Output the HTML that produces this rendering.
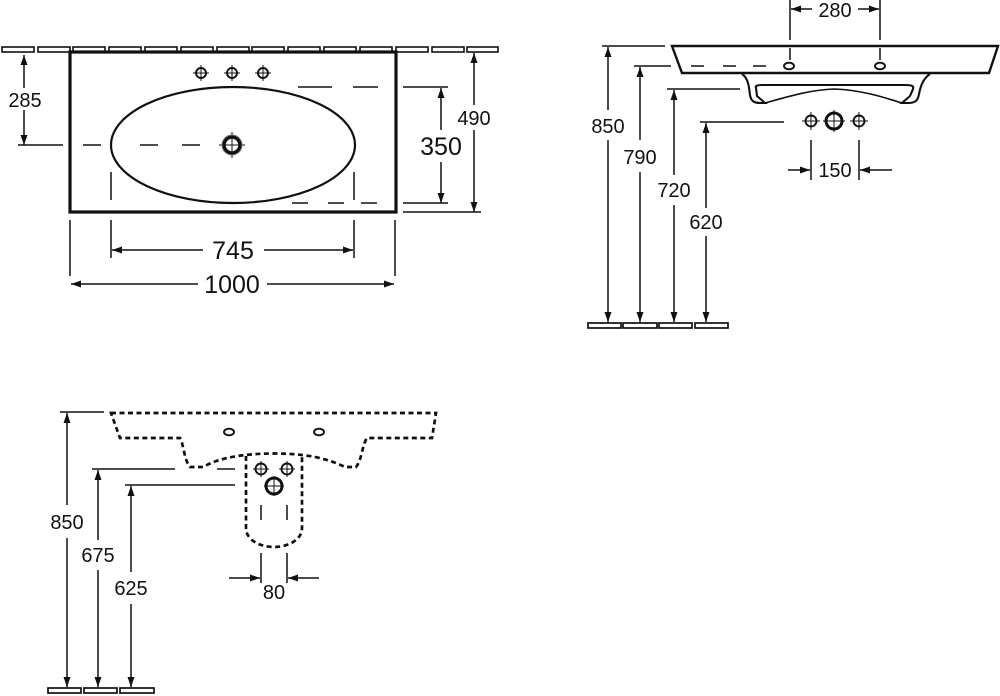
<!DOCTYPE html>
<html><head><meta charset="utf-8"><style>
html,body{margin:0;padding:0;background:#fff;}
svg{display:block;}
text{font-family:"Liberation Sans",sans-serif;fill:#111;}
</style></head><body>
<svg width="1000" height="696" viewBox="0 0 1000 696" xmlns="http://www.w3.org/2000/svg">
<defs>
<marker id="a" viewBox="0 0 10 10" refX="10" refY="5" markerWidth="10" markerHeight="10" markerUnits="userSpaceOnUse" orient="auto">
<path d="M0,1.5 L10,5 L0,8.5 Z" fill="#111"/></marker>
</defs>
<g stroke="#111" fill="none" stroke-width="1.5">

<g stroke-width="1.6" fill="#fff">
<rect x="2" y="47" width="32" height="5"/><rect x="38" y="47" width="32" height="5"/><rect x="73" y="47" width="32" height="5"/>
<rect x="109" y="47" width="32" height="5"/><rect x="145" y="47" width="32" height="5"/><rect x="181" y="47" width="32" height="5"/>
<rect x="217" y="47" width="32" height="5"/><rect x="252" y="47" width="32" height="5"/><rect x="288" y="47" width="32" height="5"/>
<rect x="324" y="47" width="32" height="5"/><rect x="360" y="47" width="32" height="5"/><rect x="396" y="47" width="32" height="5"/>
<rect x="432" y="47" width="32" height="5"/><rect x="467" y="47" width="31" height="5"/>
</g>
<rect x="70" y="52" width="326" height="160" stroke-width="3.2"/>
<ellipse cx="233" cy="145" rx="122" ry="58" stroke-width="2.2"/>
<g stroke-width="1.9">
<circle cx="201" cy="73" r="5"/><circle cx="232" cy="73" r="5"/><circle cx="263" cy="73" r="5"/>
</g>
<g stroke-width="1">
<path d="M201 65v16M193 73h16M232 65v16M224 73h16M263 65v16M255 73h16"/>
<path d="M232 132v26M219 145h26"/>
</g>
<circle cx="232" cy="145" r="8" stroke-width="3.5"/>
<circle cx="232" cy="145" r="10" stroke-width="1" stroke="#777"/>
<path d="M18 145h45M83 145h18M140 145h18M182 145h18" />
<path d="M298 87h34M353 87h25M403 87h45" />
<path d="M292 203h16M328 203h16M361 203h16M403 203h45" />
<path d="M111 172v28M354 172v28" />
<path d="M24 100V55" marker-end="url(#a)"/>
<path d="M24 100V145" marker-end="url(#a)"/>
<rect x="4" y="88" width="40" height="22" fill="#fff" stroke="none"/>
<path d="M441 130V88" marker-end="url(#a)"/>
<path d="M441 162V203" marker-end="url(#a)"/>
<path d="M474 105V53" marker-end="url(#a)"/>
<path d="M474 130V212" marker-end="url(#a)"/>
<path d="M403 212h78"/>
<path d="M111 220v38M354 220v38M70 220v56M395 220v56"/>
<path d="M203 250H112" marker-end="url(#a)"/>
<path d="M264 250H353" marker-end="url(#a)"/>
<path d="M198 284H71" marker-end="url(#a)"/>
<path d="M267 284H394" marker-end="url(#a)"/>

<path d="M790 0v40M880 0v40M790 48v12M880 48v12"/>
<path d="M812 9H791" marker-end="url(#a)"/>
<path d="M858 9H879" marker-end="url(#a)"/>
<path d="M672 46H998L989 73H682Z" stroke-width="2.4"/>
<path d="M691 66h13M723 66h13M753 66h13" />
<ellipse cx="789" cy="66" rx="5" ry="3.3" stroke-width="1.9"/>
<ellipse cx="880" cy="66" rx="5" ry="3.3" stroke-width="1.9"/>
<path d="M742 74C748 78 749 86 750 95C751 101 754 103 760 103H765L757 96L756 88C755 86 757 85 762 85H905C912 85 914 86 913 89L910 96L902 103H908C916 103 918 100 919 94C921 84 924 78 930 74" stroke-width="2.1"/>
<path d="M765 103C790 96 810 90 834 89C860 90 880 96 902 103" stroke-width="1.6"/>
<g stroke-width="1.9"><circle cx="811" cy="121" r="5.5"/><circle cx="859" cy="121" r="5.5"/></g>
<circle cx="834" cy="121" r="8" stroke-width="3"/>
<g stroke-width="1"><path d="M811 112v18M802 121h18M859 112v18M850 121h18M834 110v22M823 121h22"/></g>
<path d="M811 140v40M859 140v40"/>
<path d="M788 170H810" marker-end="url(#a)"/>
<path d="M892 170H860" marker-end="url(#a)"/>
<path d="M602 46h63M634 66h37M667 89h73M700 122h84"/>
<path d="M608 110V47" marker-end="url(#a)"/>
<path d="M608 140V322" marker-end="url(#a)"/>
<path d="M640 140V67" marker-end="url(#a)"/>
<path d="M640 172V322" marker-end="url(#a)"/>
<path d="M674 175V90" marker-end="url(#a)"/>
<path d="M674 205V322" marker-end="url(#a)"/>
<path d="M706 208V123" marker-end="url(#a)"/>
<path d="M706 236V322" marker-end="url(#a)"/>
<g stroke-width="1.7" fill="#fff">
<rect x="588" y="323" width="33" height="5"/><rect x="623" y="323" width="34" height="5"/><rect x="659" y="323" width="33" height="5"/><rect x="695" y="323" width="33" height="5"/>
</g>

<g stroke-width="2.7" stroke-dasharray="5 3.5">
<path d="M111 413H436L432 438H367C362 445 362 460 356 467H345C335 462 320 457 302 455C285 453 262 453 246 455C225 457 212 462 203 467H190C184 460 184 445 180 438H120Z"/>
<path d="M246 456V528C246 540 260 547 274 547C288 547 302 540 302 528V456"/>
</g>
<ellipse cx="229" cy="432" rx="5" ry="3.3" stroke-width="1.9"/>
<ellipse cx="319" cy="432" rx="5" ry="3.3" stroke-width="1.9"/>
<g stroke-width="1.9"><circle cx="261" cy="469" r="5.5"/><circle cx="287" cy="469" r="5.5"/></g>
<circle cx="274" cy="486" r="8" stroke-width="3"/>
<g stroke-width="1"><path d="M261 461v16M253 469h16M287 461v16M279 469h16M274 476v20M264 486h20"/></g>
<path d="M261 505v15M287 505v15M261 553v30M287 553v30"/>
<path d="M229 578H260" marker-end="url(#a)"/>
<path d="M319 578H288" marker-end="url(#a)"/>
<path d="M60 412h44M92 469h83M217 469h18M125 485h110"/>
<path d="M67 505V413" marker-end="url(#a)"/>
<path d="M67 538V687" marker-end="url(#a)"/>
<path d="M98 540V470" marker-end="url(#a)"/>
<path d="M98 570V687" marker-end="url(#a)"/>
<path d="M131 572V486" marker-end="url(#a)"/>
<path d="M131 604V687" marker-end="url(#a)"/>
<g stroke-width="1.7" fill="#fff">
<rect x="48" y="688" width="33" height="5"/><rect x="84" y="688" width="33" height="5"/><rect x="120" y="688" width="34" height="5"/>
</g>
</g>

<g font-size="20" text-anchor="middle">
<text x="25" y="107">285</text>
<text x="474" y="125">490</text>
<text x="835" y="17">280</text>
<text x="835" y="177">150</text>
<text x="608" y="133">850</text>
<text x="640" y="164">790</text>
<text x="674" y="197">720</text>
<text x="706" y="229">620</text>
<text x="67" y="529">850</text>
<text x="98" y="562">675</text>
<text x="131" y="595">625</text>
<text x="274" y="599">80</text>
</g>
<g font-size="25" text-anchor="middle">
<text x="441" y="155">350</text>
<text x="233" y="259">745</text>
<text x="232" y="293">1000</text>
</g>
</svg>
</body></html>
